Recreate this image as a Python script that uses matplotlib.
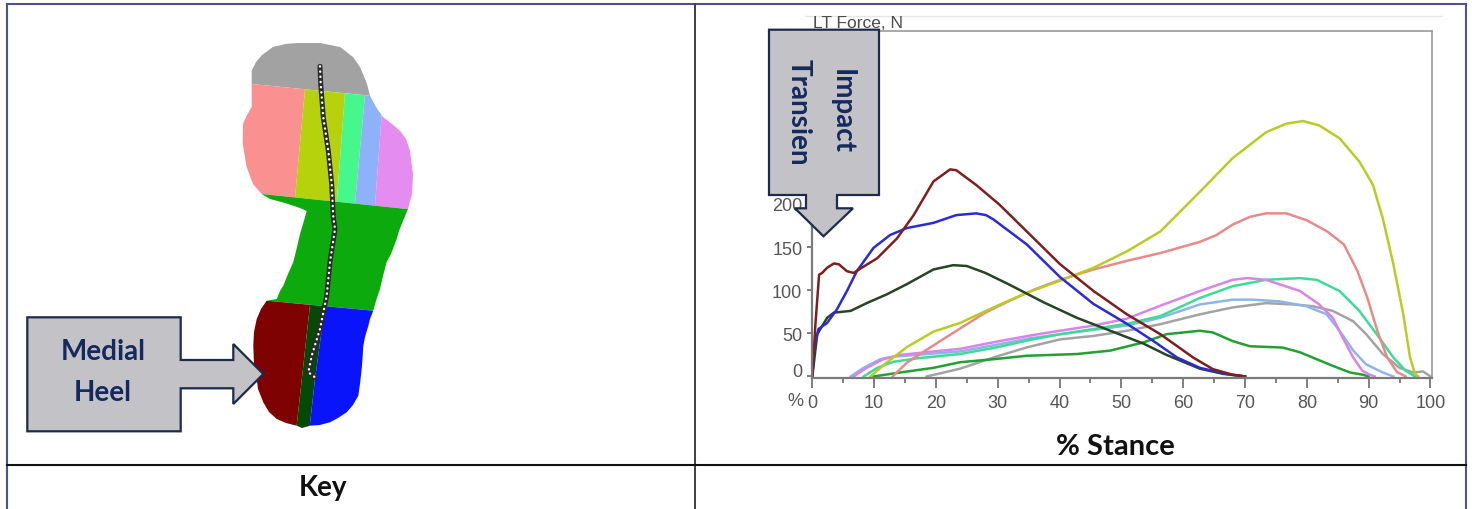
"""
Plantar pressure key and regional force curves over % stance.

Left cell: foot outline split into sensor regions with the centre of
pressure path; right cell: force per region (N) across the stance phase.
"""

import matplotlib
matplotlib.use('Agg')
import matplotlib.pyplot as plt
import matplotlib.transforms as mtransforms
from matplotlib.patches import Polygon
from matplotlib.ticker import FixedLocator, MultipleLocator

plt.rcParams['font.family'] = ['Lato', 'DejaVu Sans']

W, H = 1472, 510

# ---- force curves (x = % stance, y = force N) ----
heel_med_x = [0, 0.5, 1.1, 1.6, 2.4, 3.5, 4.3, 5.6, 6.7, 8, 10.5, 13.7, 16.4, 19.6, 22.3, 23.3,
              26.5, 30.3, 34.7, 40.1, 45.5, 50.9, 56.3, 61.6, 64.8, 68, 70]
heel_med_y = [0, 60, 118, 120, 126, 131, 130, 122, 120, 126, 137, 160, 187, 226, 240, 239,
              222, 199, 168, 130, 99, 72, 49, 22, 8.5, 2, 0]

heel_lat_x = [0, 0.3, 1, 2.4, 4, 5.6, 7.2, 9.9, 12.6, 15.3, 19.6, 23.3, 26.5, 28.1, 29.3,
              34.7, 40.1, 45.5, 50.9, 55.2, 59, 62.7, 67, 70]
heel_lat_y = [0, 33, 55, 62, 78, 99, 122, 149, 164, 172, 178, 187, 189, 187, 182,
              153, 115, 84, 61, 41, 22, 10, 3, 0]

heel_mid_x = [0, 0.8, 2.4, 3.5, 6.2, 8.8, 12, 15.3, 19.6, 22.8, 25, 28, 32, 37.4, 42.8,
              48.2, 53.6, 57.3, 62.7, 66.5, 70]
heel_mid_y = [0, 49, 68, 74, 76, 85, 95, 107, 124, 129, 128, 120, 106, 86, 68,
              53, 38, 25, 9, 3, 0]

hallux_x = [9.4, 12, 15.3, 19.6, 23.9, 29.3, 34.7, 40.1, 45.5, 50.9, 56.3, 62.7, 68, 73.4,
            76.7, 79.4, 82, 85.3, 88.5, 90.7, 92.3, 94, 95.6, 96.7, 97.5, 98]
hallux_y = [0, 16, 34, 52, 62, 80, 97, 111, 126, 145, 168, 214, 253, 283,
            293, 296, 291, 276, 249, 222, 183, 130, 72, 22, 3, 0]

met1_x = [13, 15.3, 19.6, 24, 28, 32, 36, 40.1, 42.8, 45.5, 50.9, 56.3, 62.7, 65.4, 68,
          70.8, 73.4, 76.7, 80, 83.3, 86, 88.2, 89.8, 91.4, 93, 94.6, 96]
met1_y = [0, 16, 36, 56, 74, 88, 101, 112, 118, 124, 134, 143, 156, 164, 176,
          185, 189, 189, 181, 168, 153, 122, 91, 53, 22, 5, 0]

met5_x = [6.7, 8.8, 11.5, 14.2, 19.6, 23.9, 30.3, 35.7, 40.1, 45.5, 50.9, 56.3, 62.7, 68,
          70.3, 73.4, 78.9, 82, 84.2, 85.8, 87.5, 89, 90.2, 91]
met5_y = [0, 10, 20, 25, 29, 32, 41, 48, 53, 59, 67, 82, 99, 112,
          114, 112, 99, 83.5, 68, 45, 22, 6.5, 2, 0]

met3_x = [8.3, 10.5, 13.1, 16.9, 23.9, 30, 35, 40.1, 45.5, 50.9, 56.3, 62.7, 68, 73.4,
          78.9, 81.6, 85.3, 88.5, 91.3, 94, 96, 97.5]
met3_y = [0, 10, 17, 21, 26, 34, 42, 49, 55, 61, 70, 91, 104.6, 112,
          114, 112, 99, 76, 49, 22, 6.5, 0]

met4_x = [6.2, 8.3, 11, 13.1, 16.9, 23.9, 30, 35, 40.1, 45.5, 50.9, 56.3, 62.7, 68, 71.3,
          75.6, 79.9, 83.2, 85.3, 87.5, 89.6, 92.3, 94]
met4_y = [0, 10, 20, 23, 25, 29, 37, 44, 49, 54, 59, 68, 83.5, 89, 89,
          87, 81.5, 72, 53, 30, 14, 4.6, 0]

toes_x = [18.5, 23.9, 29.3, 34.7, 40.1, 45.5, 50.9, 56.3, 62.7, 68, 73.4, 77.7, 80.9, 84.2,
          87.5, 89.6, 92.3, 95, 97.2, 98.8, 100]
toes_y = [0, 9, 22, 33.7, 43, 47, 53, 60.6, 72, 80, 85, 83.5, 81.5, 76,
          64, 49, 26, 10, 4.6, 5.8, 0]

midfoot_x = [9.9, 14.2, 19.6, 23.9, 29.3, 34.7, 42.8, 48.2, 53.6, 57.3, 62.7, 64.8, 68, 70.8,
             76.1, 78.9, 81.6, 84.3, 87, 89.1, 90]
midfoot_y = [0, 4.6, 10, 16.5, 20, 24, 26, 30, 39.5, 49, 53, 51, 41, 35,
             33.5, 28, 20, 12, 4.6, 2, 0]

x_ticks = [0, 10, 20, 30, 40, 50, 60, 70, 80, 90, 100]
y_ticks = [0, 50, 100, 150, 200]

SERIES = [
    (toes_x, toes_y, '#a3a3a3'),
    (midfoot_x, midfoot_y, '#22a032'),
    (met4_x, met4_y, '#8db6e6'),
    (met3_x, met3_y, '#3ddc96'),
    (met5_x, met5_y, '#d884e8'),
    (met1_x, met1_y, '#e88a8a'),
    (hallux_x, hallux_y, '#b9cc26'),
    (heel_mid_x, heel_mid_y, '#264526'),
    (heel_lat_x, heel_lat_y, '#2b2bd6'),
    (heel_med_x, heel_med_y, '#7b1f1f'),
]

# ---- key drawing, in figure pixels (y down) ----
FOOT_OUTLINE = [
    (251.7, 85), (251.7, 71.7), (256, 63), (262, 56), (273, 48), (285, 45), (297, 44),
    (320, 44), (340, 48), (353, 58), (360, 68), (363, 75), (367, 85), (370, 96.7),
    (376, 108), (383, 118), (392, 125), (400, 131.7), (406, 140), (410, 151.7),
    (413, 175), (412, 195), (408, 210), (403, 222), (399, 232), (396.7, 240),
    (391, 255), (386.7, 263), (383, 277), (380, 290), (376, 302), (373.3, 311.7),
    (370, 320), (368.3, 327), (365, 338), (363.3, 347), (362.5, 360), (361.7, 370),
    (360, 385), (358.3, 396.7), (353, 406), (346.7, 413.3), (338, 419), (330, 423.3),
    (320, 426), (310, 426.7), (302, 429), (296.7, 426.7), (286, 424), (276.7, 420),
    (269, 413), (263.3, 403.3), (258, 390), (256.7, 380), (254, 365), (253.3, 346.7),
    (254, 333), (256.7, 320), (261, 310), (266.7, 301.7), (276.7, 300), (280, 292),
    (283.3, 286.7), (288, 275), (293.3, 263), (297, 248), (300, 235), (303, 225),
    (306.7, 212), (300, 209), (285, 204), (270, 200), (261.7, 195), (253, 185),
    (246.7, 168), (242.7, 145), (243, 125), (246, 118), (251.7, 108),
]

FOOT_REGIONS = [
    ([(200, 0), (450, 0), (450, 104.6), (200, 79.9)], '#a2a2a2'),
    ([(200, 79.9), (305, 90.3), (295, 198.4), (200, 188.6)], '#fb9090'),
    ([(305, 90.3), (345, 94.3), (336.7, 202.8), (295, 198.4)], '#b6d20c'),
    ([(345, 94.3), (365, 96.2), (355, 204.6), (336.7, 202.8)], '#46f88c'),
    ([(365, 96.2), (383, 98), (375, 206.7), (355, 204.6)], '#8eb2fa'),
    ([(383, 98), (450, 104.6), (450, 214.5), (375, 206.7)], '#e48cf0'),
    ([(200, 188.6), (450, 214.5), (450, 318.9), (200, 295.4)], '#0caa0c'),
    ([(200, 295.4), (310, 305.8), (295.2, 440), (200, 440)], '#7e0202'),
    ([(310, 305.8), (325, 307.2), (315, 380), (308.3, 440), (295.2, 440)], '#064806'),
    ([(325, 307.2), (450, 318.9), (450, 440), (308.3, 440), (315, 380)], '#0a14fa'),
]

COP_PATH = [(320, 67.3), (320.7, 85), (323.3, 118.3), (328.3, 151.7), (331.7, 185),
            (333.3, 218.3), (335, 230), (330, 263), (326.7, 296.7), (320, 330),
            (311.7, 356.7), (308.3, 373.3), (315, 378.3)]

HEEL_ARROW = [(27.3, 318.3), (180.7, 318.3), (180.7, 361), (233.3, 361), (233.3, 345),
              (263.3, 375), (233.3, 405), (233.3, 389.3), (180.7, 389.3), (180.7, 432.3),
              (27.3, 432.3)]

IMPACT_ARROW = [(769, 30.7), (879, 30.7), (879, 196), (837, 196), (837, 209.3),
                (853, 209.3), (823.5, 237.3), (795, 209.3), (806, 209.3), (806, 196),
                (769, 196)]

NAVY = '#152a5c'
BORDER = '#50508a'


def draw_force_chart(fig):
    """Force per region against % stance, placed in the right cell."""
    left, right, top, bottom = 812.3, 1431.7, 32.3, 379.2
    ax = fig.add_axes([left / W, 1 - bottom / H, (right - left) / W, (bottom - top) / H])
    for xs, ys, color in SERIES:
        ax.plot(xs, ys, color=color, lw=1.8, solid_joinstyle='round')

    ax.set_xlim(0, 100.2)
    ax.set_ylim(-2, 400)
    ax.xaxis.set_major_locator(FixedLocator(x_ticks))
    ax.xaxis.set_minor_locator(MultipleLocator(5))
    ax.yaxis.set_major_locator(FixedLocator(y_ticks))
    ax.set_xticklabels([str(v) for v in x_ticks])
    ax.set_yticklabels([str(v) for v in y_ticks])

    for name, sp in ax.spines.items():
        sp.set_color('#7a7a7a' if name in ('left', 'bottom') else '#9a9a9a')
        sp.set_linewidth(1.6 if name in ('left', 'bottom') else 1.2)

    ax.tick_params(axis='x', which='major', length=7.2, width=1.2, color='#6a6a6a',
                   pad=4, labelsize=13, labelcolor='#555555')
    ax.tick_params(axis='x', which='minor', length=3.6, width=1.2, color='#6a6a6a')
    ax.tick_params(axis='y', length=3.6, width=1.2, color='#6a6a6a', pad=3.6,
                   labelsize=13, labelcolor='#555555')
    for lbl in ax.get_xticklabels() + ax.get_yticklabels():
        lbl.set_family(['Liberation Sans', 'DejaVu Sans'])

    # the "0" force label sits a little above its tick
    shift = mtransforms.ScaledTranslation(0, 7 / 100, fig.dpi_scale_trans)
    zero_lbl = ax.yaxis.get_major_ticks()[0].label1
    zero_lbl.set_transform(zero_lbl.get_transform() + shift)
    return ax


def draw_key(fig):
    """Table grid, foot key, call-out arrows and all free text."""
    cv = fig.add_axes([0, 0, 1, 1], zorder=5)
    cv.set_xlim(0, W)
    cv.set_ylim(H, 0)
    cv.axis('off')
    cv.patch.set_alpha(0)

    # table lines
    cv.plot([6.7, 1466], [5, 5], color=BORDER, lw=1.5)
    cv.plot([6.7, 6.7], [5, 515], color=BORDER, lw=1.5)
    cv.plot([1466, 1466], [5, 515], color=BORDER, lw=1.5)
    cv.plot([694.5, 694.5], [5, 515], color='#3c3c54', lw=1.4)
    cv.plot([6.7, 1466], [466, 466], color='#111111', lw=1.5)
    cv.plot([805, 1442], [16.5, 16.5], color='#e6e6e6', lw=1)

    # foot regions clipped to the outline
    outline = Polygon(FOOT_OUTLINE, closed=True, facecolor='none', edgecolor='none')
    cv.add_patch(outline)
    for pts, color in FOOT_REGIONS:
        patch = Polygon(pts, closed=True, facecolor=color, edgecolor='none')
        cv.add_patch(patch)
        patch.set_clip_path(outline)

    cx, cy = zip(*COP_PATH)
    cv.plot(cx, cy, color='#2b2b2b', lw=3.6, solid_capstyle='round', solid_joinstyle='round')
    cv.plot(cx, cy, color='white', lw=1.7, linestyle=(0, (0.1, 2.1)), dash_capstyle='round')

    # call-outs
    for pts in (HEEL_ARROW, IMPACT_ARROW):
        cv.add_patch(Polygon(pts, closed=True, facecolor='#c3c3c7', edgecolor='#1c2b4a',
                             lw=1.6, joinstyle='miter'))
    cv.text(103, 352, 'Medial', fontsize=20, fontweight='bold', color=NAVY,
            ha='center', va='center')
    cv.text(103, 393, 'Heel', fontsize=20, fontweight='bold', color=NAVY,
            ha='center', va='center')
    cv.text(841.7, 111.7, 'Impact', fontsize=20, fontweight='bold', color=NAVY,
            ha='center', va='center', rotation=270)
    cv.text(798.3, 112.5, 'Transien', fontsize=20, fontweight='bold', color=NAVY,
            ha='center', va='center', rotation=270)

    cv.text(812.7, 23.3, 'LT Force, N', fontsize=12.5, color='#4a4a4a', ha='left',
            va='center', family=['Liberation Sans', 'DejaVu Sans'])
    cv.text(795.5, 401.7, '%', fontsize=13, color='#555555', ha='center', va='center',
            family=['Liberation Sans', 'DejaVu Sans'])
    cv.text(1115, 447, '% Stance', fontsize=21, fontweight='bold', color='#111111',
            ha='center', va='center')
    cv.text(323, 488, 'Key', fontsize=20, fontweight='bold', color='#111111',
            ha='center', va='center')
    return cv


if __name__ == "__main__":
    fig = plt.figure(figsize=(W / 100, H / 100), dpi=100)
    draw_force_chart(fig)
    draw_key(fig)
    fig.savefig('out.png', dpi=100)
    plt.close(fig)
